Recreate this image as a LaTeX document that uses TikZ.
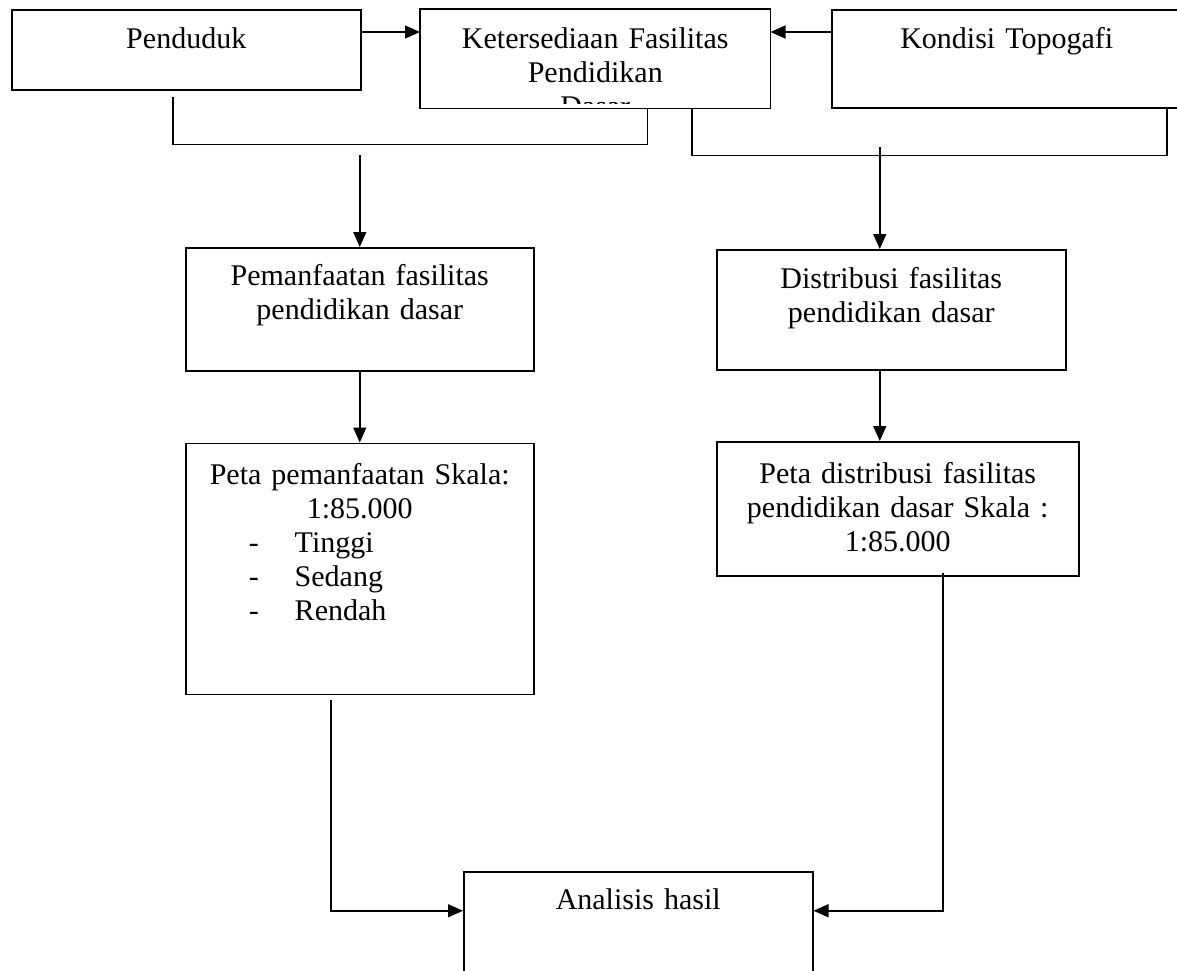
\documentclass[tikz,border=0pt]{standalone}
\usepackage{fontspec}
\setmainfont{Liberation Serif}
\usetikzlibrary{positioning, arrows.meta}
\newcommand{\petaitem}[1]{\makebox[348pt][l]{\hspace*{63pt}\makebox[46pt][l]{-}#1}}

\begin{document}
\begin{tikzpicture}[
        x=1pt, y=-1pt,
        box/.style={draw, line width=1.5pt, anchor=north west, align=center, inner sep=0pt, font=\fontsize{30pt}{34pt}\selectfont},
        line/.style={line width=1.5pt},
        arrow/.style={line, -{Triangle[length=15pt, width=13pt]}}
    ]
    \useasboundingbox (0,0) rectangle (1177,970);
    \clip (0,0) rectangle (1177,970);

    % top row
    \node[box, text width=349pt, text height=39pt, text depth=41pt] (pend) at (11,9) {Penduduk};
    \begin{scope}
        \clip (420,0) rectangle (770,103.5);
        \node[box, draw=none, text width=349pt, text height=39pt, text depth=59pt] (ket) at (420,9) {Ketersediaan Fasilitas\\ Pendidikan\\ Dasar};
    \end{scope}
    \draw[line] (ket.south west) rectangle (ket.north east);
    \node[box, text width=350pt, text height=39pt, text depth=59pt] (kond) at (831,9) {Kondisi Topogafi};

    % middle and lower boxes
    \node[box, text width=348pt, text height=38pt, text depth=85pt] (pem) at (185,247) {Pemanfaatan fasilitas\\ pendidikan dasar};
    \node[box, text width=349pt, text height=39pt, text depth=81pt] (dist) at (716,249) {Distribusi fasilitas\\ pendidikan dasar};
    \node[box, text width=348pt, text height=41pt, text depth=210pt, below=71pt of pem] (petapem) {Peta pemanfaatan Skala:\\ 1:85.000\\ \petaitem{Tinggi}\\ \petaitem{Sedang}\\ \petaitem{Rendah}};
    \node[box, text width=362pt, text height=42pt, text depth=92pt] (petadist) at (716,441) {Peta distribusi fasilitas\\ pendidikan dasar Skala :\\ 1:85.000};
    \node[box, text width=349pt, text height=38pt, text depth=91pt] (anal) at (463,871) {Analisis hasil};

    % connectors
    \draw[arrow] (pend.east |- 0,32) -- (ket.west |- 0,32);
    \draw[arrow] (kond.west |- 0,32) -- (ket.east |- 0,32);
    \draw[line] ([xshift=-13.5pt, yshift=-6pt]pend.south) -- ++(0,48) -| ([xshift=52pt]ket.south);
    \draw[line] ([xshift=96.5pt]ket.south) -- ++(0,47) -| ([xshift=160pt]kond.south);
    \draw[arrow] ([yshift=92pt]pem.north) -- (pem.north);
    \draw[arrow] ([xshift=-11.5pt, yshift=102pt]dist.north) -- ([xshift=-11.5pt]dist.north);
    \draw[arrow] (pem) -- (petapem);
    \draw[arrow] ([xshift=-11.5pt]dist.south) -- ([xshift=-11.5pt]dist.south |- petadist.north);
    \draw[arrow] ([xshift=-29pt, yshift=-5pt]petapem.south) |- ([yshift=25.5pt]anal.west);
    \draw[arrow] ([xshift=45pt, yshift=4pt]petadist.south) |- ([yshift=25.5pt]anal.east);
\end{tikzpicture}
\end{document}
